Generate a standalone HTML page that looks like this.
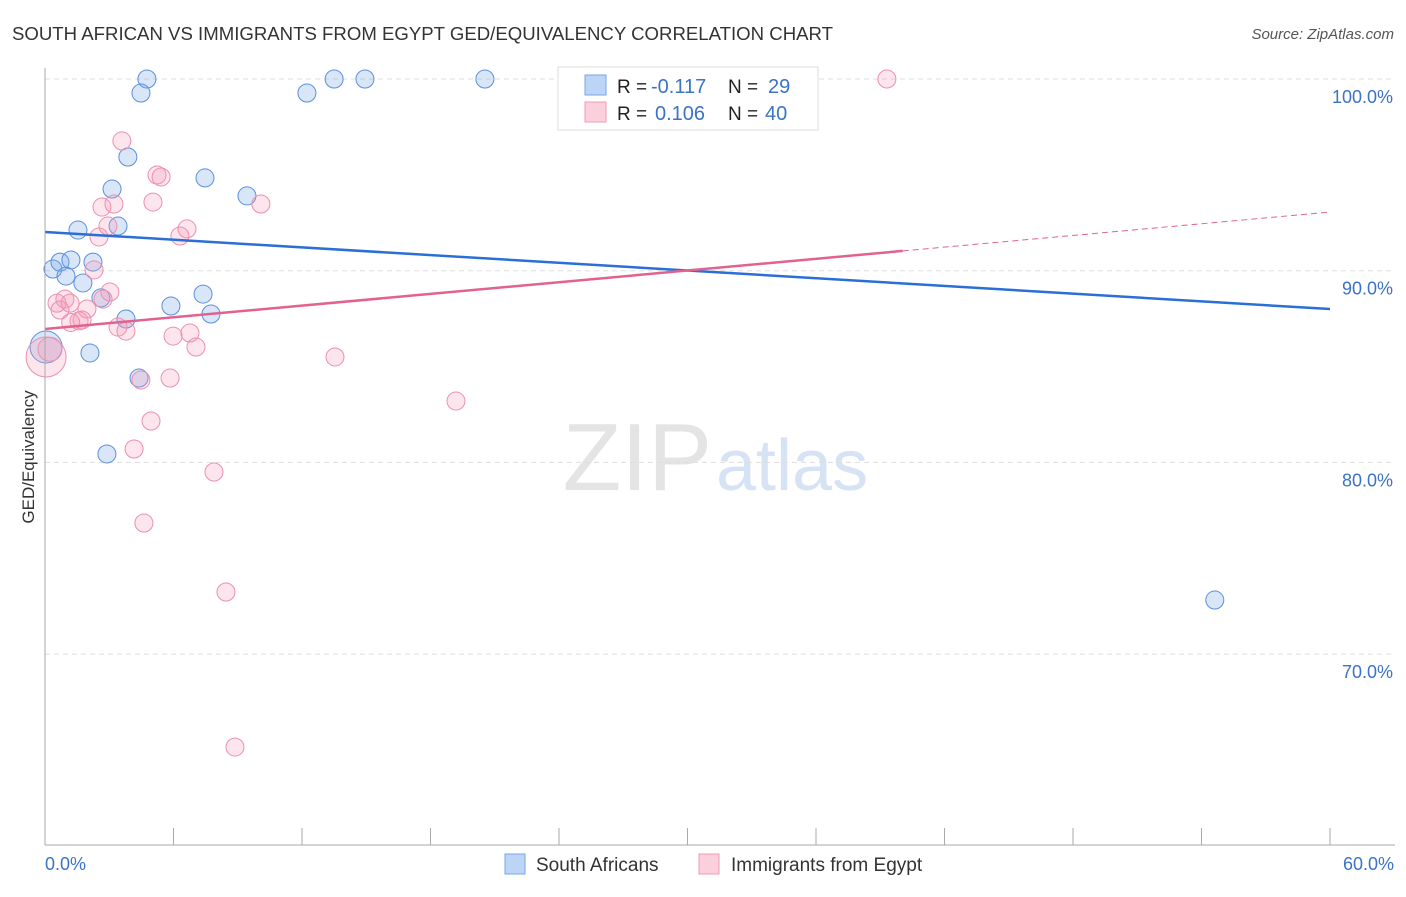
<!DOCTYPE html>
<html><head><meta charset="utf-8"><style>
body{margin:0;background:#fff;font-family:"Liberation Sans",sans-serif}
svg text{font-family:"Liberation Sans",sans-serif}
</style></head><body>
<svg id="c" width="1406" height="892">
<text x="12" y="40" font-size="18" fill="#333" textLength="821" lengthAdjust="spacingAndGlyphs">SOUTH AFRICAN VS IMMIGRANTS FROM EGYPT GED/EQUIVALENCY CORRELATION CHART</text>
<text x="1394" y="39" font-size="15" fill="#555" text-anchor="end" font-style="italic">Source: ZipAtlas.com</text>
<text x="712" y="490" font-size="96" fill="#e4e4e4" text-anchor="end" font-family="Liberation Serif">ZIP</text>
<text x="716" y="490" font-size="72" fill="#d6e3f5">atlas</text>
<g id="grid"></g><g id="pts"></g><g id="lines"></g>
<line x1="45" y1="68" x2="45" y2="845" stroke="#aaa"/>
<line x1="45" y1="845" x2="1395" y2="845" stroke="#aaa"/>
<text transform="translate(34,457) rotate(-90)" font-size="17" fill="#333" text-anchor="middle">GED/Equivalency</text>
<text x="45" y="870" font-size="18" fill="#3b73c8">0.0%</text>
<text x="1394" y="870" font-size="18" fill="#3b73c8" text-anchor="end">60.0%</text>
<g>
<rect x="558" y="67" width="260" height="63" fill="#fff" stroke="#ddd"/>
<rect x="585" y="75" width="21" height="20" fill="#bcd4f5" stroke="#7aa6e6"/>
<rect x="585" y="102" width="21" height="20" fill="#fccfdc" stroke="#ee9bb5"/>
<text x="617" y="93" font-size="19" fill="#222">R =</text>
<text x="651" y="93" font-size="20" fill="#3b73c8">-0.117</text>
<text x="728" y="93" font-size="19" fill="#222">N =</text>
<text x="768" y="93" font-size="20" fill="#3b73c8">29</text>
<text x="617" y="120" font-size="19" fill="#222">R =</text>
<text x="655" y="120" font-size="20" fill="#3b73c8">0.106</text>
<text x="728" y="120" font-size="19" fill="#222">N =</text>
<text x="765" y="120" font-size="20" fill="#3b73c8">40</text>
</g>
<g>
<rect x="505" y="854" width="20" height="20" fill="#bcd4f5" stroke="#7aa6e6"/>
<text x="536" y="871" font-size="19" fill="#333">South Africans</text>
<rect x="699" y="854" width="20" height="20" fill="#fccfdc" stroke="#ee9bb5"/>
<text x="731" y="871" font-size="19" fill="#333">Immigrants from Egypt</text>
</g>
</svg>
<script>
const yTicks=[100,90,80,70];
const yTickLabels=["100.0%","90.0%","80.0%","70.0%"];
const blueX=[4.76,4.48,12.23,13.5,14.94,20.54,33.52,3.87,7.47,3.13,9.43,3.41,1.54,0.37,0.70,1.21,0.98,2.24,1.77,2.61,5.88,7.38,7.75,3.78,2.10,4.39,2.89,54.62,0.05];
const blueY=[100,99.27,99.27,100,100,100,100,95.93,94.84,94.26,93.9,92.33,92.12,90.09,90.45,90.56,89.72,90.45,89.36,88.58,88.16,88.78,87.74,87.48,85.71,84.40,80.44,72.82,86.02];
const pinkX=[39.31,3.59,5.23,5.42,5.04,10.08,2.66,3.22,2.94,6.63,6.30,2.52,2.29,3.03,0.56,0.93,1.17,0.70,1.96,1.59,1.73,3.41,3.78,5.98,6.77,7.05,13.54,5.84,4.48,19.19,4.95,4.16,7.89,4.62,8.45,8.87,0.05,0.23,2.71,1.2];
const pinkY=[100,96.77,94.99,94.89,93.58,93.48,93.32,93.48,92.33,92.18,91.81,91.76,90.04,88.89,88.31,88.52,88.31,87.95,88.0,87.38,87.43,87.06,86.85,86.59,86.75,86.02,85.5,84.4,84.3,83.2,82.16,80.7,79.5,76.84,73.24,65.15,85.5,85.9,88.52,87.3];
const blueLine=[92.02,88.0];
const pinkLine=[86.96,93.06];
const pinkSolidEnd=40.05;
const X=v=>45+v/60*1285, Y=v=>79+(100-v)*19.17;
const NS="http://www.w3.org/2000/svg";
function mk(t,a,p){const e=document.createElementNS(NS,t);for(const k in a)e.setAttribute(k,a[k]);document.getElementById(p).appendChild(e);return e;}
yTicks.forEach((t,i)=>{
 const l=mk('line',{x1:45,x2:1395,y1:Y(t),y2:Y(t),stroke:'#ddd','stroke-dasharray':'5,4'},'grid');
 
 
 const tx=mk('text',{x:1393,y:Y(t)+24,'font-size':18,fill:'#3b73c8','text-anchor':'end'},'grid');
 tx.textContent=yTickLabels[i];
 
 
});
for(let i=0;i<=10;i++){const l=mk('line',{x1:X(i*6),x2:X(i*6),y1:828,y2:845,stroke:'#aaa'},'grid');
 
 }
blueX.forEach((x,i)=>{const big=i==blueX.length-1;
 const c=mk('circle',{cx:X(x),cy:Y(blueY[i]),r:big?16:9,fill:'rgba(120,165,230,0.28)',stroke:'#5b8fdc','stroke-width':1},'pts');
 
 });
pinkX.forEach((x,i)=>{const r=i==36?20:(i==37?12:9);
 const c=mk('circle',{cx:X(x),cy:Y(pinkY[i]),r:r,fill:'rgba(245,150,180,0.25)',stroke:'#ec8fae','stroke-width':1},'pts');
 
 });
const bl=mk('line',{x1:X(0),y1:Y(blueLine[0]),x2:X(60),y2:Y(blueLine[1]),stroke:'#2a6fd6','stroke-width':2.5},'lines');


const py=v=>pinkLine[0]+(pinkLine[1]-pinkLine[0])*v/60;
const pl=mk('line',{x1:X(0),y1:Y(pinkLine[0]),x2:X(pinkSolidEnd),y2:Y(py(pinkSolidEnd)),stroke:'#e2628f','stroke-width':2.5},'lines');


const pd=mk('line',{x1:X(pinkSolidEnd),y1:Y(py(pinkSolidEnd)),x2:X(60),y2:Y(pinkLine[1]),stroke:'#e2628f','stroke-width':1,'stroke-dasharray':'6,4'},'lines');


</script>
</body></html>
